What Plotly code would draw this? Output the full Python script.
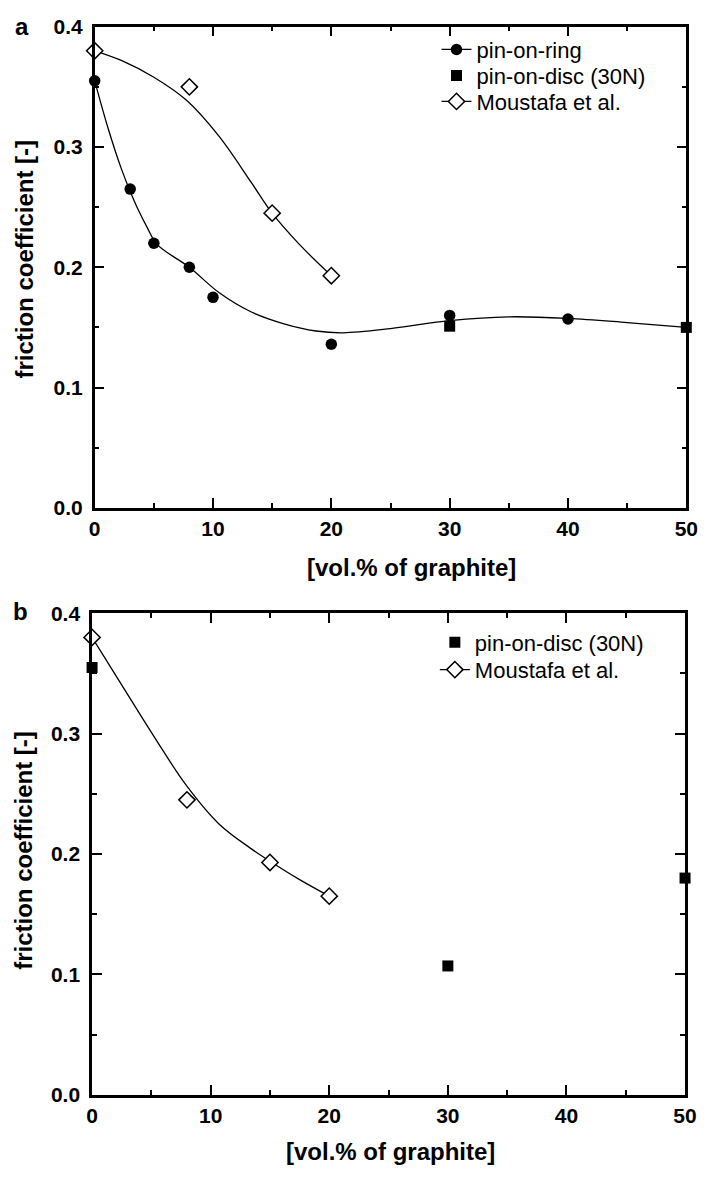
import plotly.graph_objects as go

# ---- measured data -------------------------------------------------------
# panel a: pin-on-ring tests
vol_ring = [0, 3, 5, 8, 10, 20, 30, 40]
mu_ring = [0.355, 0.265, 0.220, 0.200, 0.175, 0.136, 0.160, 0.157]

# panel a: pin-on-disc (30N)
vol_disc_a = [30, 50]
mu_disc_a = [0.151, 0.150]

# Moustafa et al. reference values
vol_moustafa = [0, 8, 15, 20]
mu_moustafa_a = [0.380, 0.350, 0.245, 0.193]

# panel b
vol_disc_b = [0, 30, 50]
mu_disc_b = [0.355, 0.107, 0.180]
mu_moustafa_b = [0.380, 0.245, 0.193, 0.165]

# ---- fitted trend curves -------------------------------------------------
fit_ring_x = [0, 1.15, 2.25, 3, 3.62, 4.44, 5.27, 8, 10.5, 13.2, 16, 18.7,
              21, 25, 30, 35, 40, 45, 50]
fit_ring_y = [0.355, 0.315, 0.282, 0.263, 0.249, 0.233, 0.219, 0.200, 0.179,
              0.163, 0.153, 0.147, 0.1455, 0.149, 0.1556, 0.1588, 0.1575,
              0.154, 0.150]

fit_mous_a_x = [0, 2.25, 5, 7.74, 10.5, 13.2, 15, 17.3, 20]
fit_mous_a_y = [0.380, 0.372, 0.358, 0.339, 0.309, 0.271, 0.245, 0.219, 0.193]

fit_mous_b_x = [0, 2.47, 5.2, 7.95, 10.7, 13.4, 15, 17.5, 20]
fit_mous_b_y = [0.380, 0.341, 0.298, 0.257, 0.225, 0.2045, 0.194, 0.1787, 0.165]

# ---- styling -------------------------------------------------------------
FONT = "Arial, Liberation Sans, Helvetica, sans-serif"
BLACK = "black"
LINE_W = 1.3
circle = dict(symbol="circle", size=11.5, color=BLACK, line=dict(width=0))
square = dict(symbol="square", size=11, color=BLACK, line=dict(width=0))
diamond = dict(symbol="diamond", size=12.5, color="white",
               line=dict(color=BLACK, width=1.5))

fig = go.Figure()

# panel a curves
fig.add_trace(go.Scatter(x=fit_ring_x, y=fit_ring_y, mode="lines",
                         line=dict(color=BLACK, width=LINE_W, shape="spline"),
                         showlegend=False, hoverinfo="skip",
                         xaxis="x", yaxis="y"))
fig.add_trace(go.Scatter(x=fit_mous_a_x, y=fit_mous_a_y, mode="lines",
                         line=dict(color=BLACK, width=LINE_W, shape="spline"),
                         showlegend=False, hoverinfo="skip",
                         xaxis="x", yaxis="y"))
# panel a points
fig.add_trace(go.Scatter(x=vol_ring, y=mu_ring, mode="markers", marker=circle,
                         showlegend=False, cliponaxis=False,
                         xaxis="x", yaxis="y"))
fig.add_trace(go.Scatter(x=vol_disc_a, y=mu_disc_a, mode="markers",
                         marker=square, showlegend=False, cliponaxis=False,
                         xaxis="x", yaxis="y"))
fig.add_trace(go.Scatter(x=vol_moustafa, y=mu_moustafa_a, mode="markers",
                         marker=diamond, showlegend=False, cliponaxis=False,
                         xaxis="x", yaxis="y"))

# panel b curve and points
fig.add_trace(go.Scatter(x=fit_mous_b_x, y=fit_mous_b_y, mode="lines",
                         line=dict(color=BLACK, width=LINE_W, shape="spline"),
                         showlegend=False, hoverinfo="skip",
                         xaxis="x2", yaxis="y2"))
fig.add_trace(go.Scatter(x=vol_disc_b, y=mu_disc_b, mode="markers",
                         marker=square, showlegend=False, cliponaxis=False,
                         xaxis="x2", yaxis="y2"))
fig.add_trace(go.Scatter(x=vol_moustafa, y=mu_moustafa_b, mode="markers",
                         marker=diamond, showlegend=False, cliponaxis=False,
                         xaxis="x2", yaxis="y2"))

W, H = 710, 1177


def px_x(v):
    return v / W


def px_y(v):
    return 1 - v / H


# legend keys: one single-entry legend per row so each row sits where wanted
legend_font = dict(family=FONT, size=22, color=BLACK)
legend_rows = [
    # (legend id, label, mode, marker, axes, text start px, row top px)
    ("legend", "pin-on-ring", "lines+markers", circle, ("x", "y"), 481.7, 17),
    ("legend2", "pin-on-disc (30N)", "markers", square, ("x", "y"), 481.7, 43.5),
    ("legend3", "Moustafa et al.", "lines+markers", diamond, ("x", "y"), 481.7, 70),
    ("legend4", "pin-on-disc (30N)", "markers", square, ("x2", "y2"), 480.0, 621.5),
    ("legend5", "Moustafa et al.", "lines+markers", diamond, ("x2", "y2"), 480.0, 649.5),
]
legend_layout = {}
for lid, name, mode, marker, axes, tx, top in legend_rows:
    fig.add_trace(go.Scatter(x=[None], y=[None], mode=mode, name=name,
                             marker=marker,
                             line=dict(color=BLACK, width=LINE_W),
                             legend=lid, xaxis=axes[0], yaxis=axes[1]))
    legend_layout[lid] = dict(
        x=px_x(tx - 40), y=px_y(top),
        xanchor="left", yanchor="top", font=legend_font,
        bgcolor="rgba(0,0,0,0)", borderwidth=0, tracegroupgap=0,
        itemsizing="trace")

tickfont = dict(family=FONT, size=21, color=BLACK, weight="bold")


def xaxis(domain, anchor):
    return dict(domain=domain, anchor=anchor, range=[0, 50], dtick=10,
                tick0=0, ticks="inside", ticklen=10, tickwidth=2,
                tickcolor=BLACK, showline=True, linewidth=2.5,
                linecolor=BLACK, mirror="ticks", showgrid=False,
                zeroline=False, tickfont=tickfont,
                minor=dict(dtick=5, ticks="inside", ticklen=5, tickwidth=2,
                           tickcolor=BLACK, showgrid=False))


def yaxis(domain, anchor):
    return dict(domain=domain, anchor=anchor, range=[0, 0.4], dtick=0.1,
                tick0=0, tickformat=".1f", ticks="inside", ticklen=10,
                tickwidth=2, tickcolor=BLACK, showline=True, linewidth=2.5,
                linecolor=BLACK, mirror="ticks", showgrid=False,
                zeroline=False, tickfont=tickfont, ticklabelstandoff=5,
                minor=dict(dtick=0.05, ticks="inside", ticklen=5,
                           tickwidth=2, tickcolor=BLACK, showgrid=False))


fig.update_layout(
    width=W, height=H,
    margin=dict(l=0, r=0, t=0, b=0),
    paper_bgcolor="white", plot_bgcolor="white",
    font=dict(family=FONT, color=BLACK),
    xaxis=xaxis([px_x(91), px_x(698)], "y"),
    yaxis=yaxis([px_y(505.7), px_y(15)], "x"),
    xaxis2=xaxis([px_x(88.3), px_x(696.7)], "y2"),
    yaxis2=yaxis([px_y(1104.3), px_y(613.3)], "x2"),
    showlegend=True,
    **legend_layout,
)

title_font = dict(family=FONT, size=24, color=BLACK, weight="bold")
annotations = [
    dict(text="a", x=px_x(16.5), y=px_y(15), font=title_font),
    dict(text="b", x=px_x(14.5), y=px_y(611), font=title_font),
    dict(text="[vol.% of graphite]", x=px_x(416), y=px_y(567),
         font=title_font),
    dict(text="[vol.% of graphite]", x=px_x(394), y=px_y(1162),
         font=title_font),
    dict(text="friction coefficient [-]", x=px_x(19), y=px_y(252),
         font=title_font, textangle=-90),
    dict(text="friction coefficient [-]", x=px_x(18), y=px_y(855),
         font=title_font, textangle=-90),
]
for a in annotations:
    a.update(xref="paper", yref="paper", xanchor="center", yanchor="middle",
             showarrow=False)
fig.update_layout(annotations=annotations)

fig.write_html("out.html")
